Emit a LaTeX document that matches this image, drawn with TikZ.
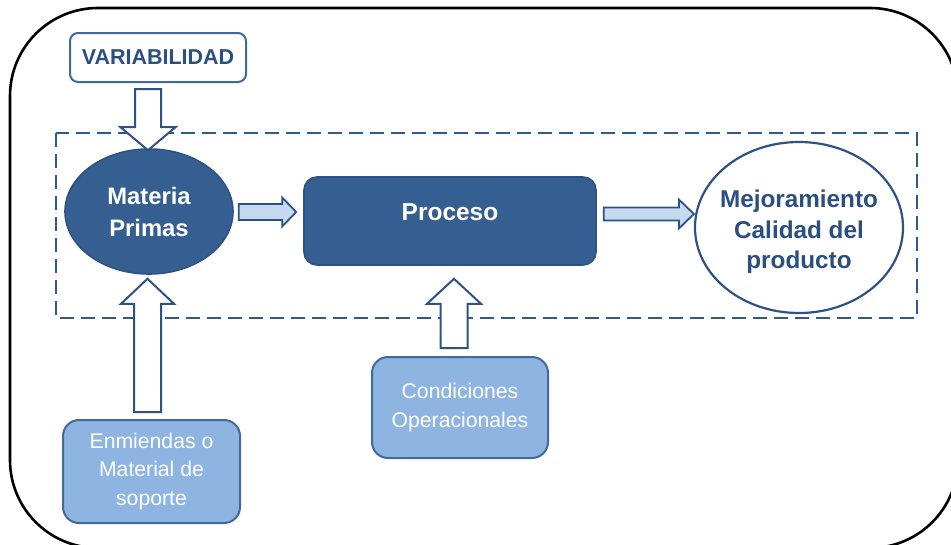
\documentclass[tikz,border=0pt]{standalone}
\usepackage{fontspec}
\setmainfont{Liberation Sans}
\usetikzlibrary{calc,shapes.geometric}

\definecolor{darkfill}{HTML}{365F91}
\definecolor{darkline}{HTML}{2D5283}
\definecolor{dashcol}{HTML}{2E5A8E}
\definecolor{boxline}{HTML}{41699B}
\definecolor{lightfill}{HTML}{8EB4E2}
\definecolor{arrowfill}{HTML}{C5D9F1}
\definecolor{darktext}{HTML}{2B4F7E}

% Block arrow from tail #2 to tip #3: shaft half width #4, head half width #5, head length #6
\newcommand{\blockarrow}[6]{%
  \path[#1] let \p1=#2, \p2=#3,
    \n1={veclen(\x2-\x1,\y2-\y1)}, \n2={(\x2-\x1)/\n1}, \n3={(\y2-\y1)/\n1} in
    ({\x1-#4*\n3},{\y1+#4*\n2})
    -- ({\x2-#6*\n2-#4*\n3},{\y2-#6*\n3+#4*\n2})
    -- ({\x2-#6*\n2-#5*\n3},{\y2-#6*\n3+#5*\n2})
    -- (\p2)
    -- ({\x2-#6*\n2+#5*\n3},{\y2-#6*\n3-#5*\n2})
    -- ({\x2-#6*\n2+#4*\n3},{\y2-#6*\n3-#4*\n2})
    -- ({\x1+#4*\n3},{\y1-#4*\n2}) -- cycle;}

\begin{document}
\begin{tikzpicture}[x=1pt,y=-1pt,
  frame/.style={draw=black, line width=2.6pt, rounded corners=88pt},
  dashbox/.style={draw=dashcol, line width=2.4pt, dash pattern=on 14pt off 7pt},
  varbox/.style={draw=boxline, line width=2pt, fill=white, rounded corners=8pt,
    minimum width=176pt, minimum height=49pt, inner sep=0pt,
    text=darktext, font=\fontsize{21.5}{25}\selectfont\bfseries},
  darkellipse/.style={ellipse, draw=darkline, line width=1.6pt, fill=darkfill,
    minimum width=168pt, minimum height=125pt, inner sep=0pt, align=center,
    text=white, font=\fontsize{23.8}{32}\selectfont\bfseries},
  procbox/.style={draw=darkline, line width=1.6pt, fill=darkfill, rounded corners=13pt,
    minimum width=292pt, minimum height=88pt, inner sep=0pt},
  proclabel/.style={text=white, font=\fontsize{24.5}{28}\selectfont\bfseries, inner sep=0pt},
  outellipse/.style={ellipse, draw=darkline, line width=2.2pt, fill=white,
    minimum width=208pt, minimum height=171pt, inner sep=0pt},
  outlabel/.style={align=center, text=darktext, inner sep=0pt,
    font=\fontsize{24.3}{30.5}\selectfont\bfseries},
  lightbox/.style={draw=boxline, line width=2pt, fill=lightfill, rounded corners=16pt,
    inner sep=0pt, align=center, text=white, font=\fontsize{21.2}{28.5}\selectfont},
  flatarrow/.style={draw=darkline, line width=1.8pt, fill=arrowfill, line join=miter},
  hollowarrow/.style={draw=darkline, line width=2pt, fill=white, line join=miter}]

\useasboundingbox (0,0) rectangle (951,544);

% outer frame and the dashed system boundary
\draw[frame] (10,8) rectangle (958,548);
\draw[dashbox] (56,133) rectangle (917,318);

% nodes
\node[varbox] (var) at (158,57.5) {VARIABILIDAD};
\node[darkellipse] (mp) at (149,211.5) {Materia\\Primas};
\node[procbox] (proc) at (450,221) {};
\node[proclabel] (proctext) at (450,212) {Proceso};
\node[outellipse] (mej) at (799,227.5) {};
\node[outlabel] (mejtext) at (799,232) {Mejoramiento\\Calidad del\\producto};
\node[lightbox, minimum width=177pt, minimum height=103pt] (enm) at (151.5,471.5)
  {Enmiendas o\\Material de\\soporte};
\node[lightbox, minimum width=176pt, minimum height=101pt] (cond) at (460,407.5)
  {Condiciones\\Operacionales};

% block arrows
\blockarrow{hollowarrow}{($(var.south)+(-10,6)$)}{($(mp.north)+(-1,2)$)}{13pt}{27.5pt}{23pt}
\blockarrow{flatarrow}{($(mp.east)+(5,0.5)$)}{($(proc.west)+(-7,-9)$)}{8pt}{14.5pt}{14pt}
\blockarrow{flatarrow}{($(proc.east)+(7,-7)$)}{($(mej.west)+(0,-13.5)$)}{6.5pt}{14.5pt}{15pt}
\blockarrow{hollowarrow}{($(enm.north)+(-4,-7)$)}{($(mp.south)+(-1.5,4)$)}{13.5pt}{26.5pt}{25pt}
\blockarrow{hollowarrow}{($(cond.north)+(-6,-8)$)}{($(proc.south)+(4,13)$)}{13.5pt}{27pt}{25pt}

\end{tikzpicture}
\end{document}
